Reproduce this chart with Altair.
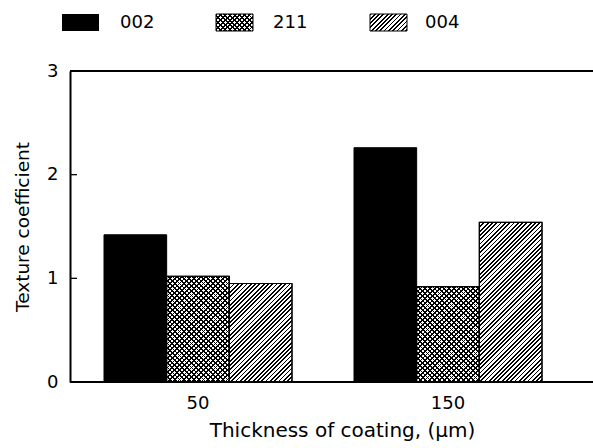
import altair as alt
import pandas as pd

# ---------------- data ----------------
thickness = ["50", "150"]
planes = ["002", "211", "004"]
tc_002 = [1.42, 2.26]
tc_211 = [1.02, 0.92]
tc_004 = [0.95, 1.54]
y_ticks = [0, 1, 2, 3]

rows = []
for i, t in enumerate(thickness):
    for p, vals in zip(planes, [tc_002, tc_211, tc_004]):
        rows.append({"thickness": t, "plane": p, "tc": vals[i]})
df = pd.DataFrame(rows)

# ---------------- layout / style ----------------
W, H = 523, 311
PAD_L, PAD_T = 70, 71
YMAX = 3
FONT = "DejaVu Sans"
FS = 18
X_RANGE = [34, 472]
PAD_INNER = 0.248
step = (X_RANGE[1] - X_RANGE[0]) / (len(thickness) - PAD_INNER)
bar_w = step * (1 - PAD_INNER) / len(planes)

HATCH_PERIOD, HATCH_FRAC = 4.3, 0.42
CROSS_PERIOD, CROSS_FRAC = 4.8, 0.38


def hatch(w, h, direction, period, frac):
    """Linear gradient with hard stops that draws 45-degree stripes in a w x h box."""
    m = (w * w + h * h) / (w + h)
    n = (w + h) / period
    dark, light = "#000000", "rgba(0,0,0,0)"
    stops = []
    k = 0
    while k < n:
        a = round(k / n, 5)
        b = round(min((k + frac) / n, 1.0), 5)
        c = round(min((k + 1) / n, 1.0), 5)
        stops += [
            alt.GradientStop(color=dark, offset=a),
            alt.GradientStop(color=dark, offset=b),
            alt.GradientStop(color=light, offset=b),
            alt.GradientStop(color=light, offset=c),
        ]
        k += 1
    if direction == "/":
        return alt.LinearGradient(gradient="linear", stops=stops,
                                  x1=0, y1=0, x2=round(w / m, 5), y2=round(h / m, 5))
    return alt.LinearGradient(gradient="linear", stops=stops,
                              x1=0, y1=1, x2=round(w / m, 5), y2=round(1 - h / m, 5))


def patterns_for(plane, w, h):
    if plane == "211":
        return [hatch(w, h, "/", CROSS_PERIOD, CROSS_FRAC),
                hatch(w, h, "\\", CROSS_PERIOD, CROSS_FRAC)]
    if plane == "004":
        return [hatch(w, h, "/", HATCH_PERIOD, HATCH_FRAC)]
    return []


x_enc = alt.X(
    "thickness:N", sort=thickness,
    scale=alt.Scale(domain=thickness, range=X_RANGE, paddingInner=PAD_INNER, paddingOuter=0),
    axis=alt.Axis(domain=False, ticks=False, tickSize=0, labelAngle=0, labelPadding=12,
                  labelFontSize=FS, titleFontSize=20, titlePadding=8, titleX=272,
                  titleFontWeight="normal", labelColor="black", titleColor="black",
                  labelFont=FONT, titleFont=FONT),
    title="Thickness of coating, (μm)",
)
xo_enc = alt.XOffset("plane:N", sort=planes,
                     scale=alt.Scale(domain=planes, paddingInner=0, paddingOuter=0))
y_enc = alt.Y(
    "tc:Q",
    scale=alt.Scale(domain=[0, YMAX], nice=False, zero=True),
    axis=alt.Axis(values=y_ticks, format="d", domain=True, domainWidth=2, domainColor="black",
                  ticks=False, grid=False, labelPadding=12, labelFontSize=FS,
                  titleFontSize=18.5, titlePadding=14, titleFontWeight="normal",
                  labelColor="black", titleColor="black", labelFont=FONT, titleFont=FONT),
    title="Texture coefficient",
)

layers = []

# base bars
layers.append(
    alt.Chart(df).mark_bar(stroke="black", strokeWidth=1).encode(
        x=x_enc, xOffset=xo_enc, y=y_enc,
        fill=alt.Fill("plane:N", scale=alt.Scale(domain=planes, range=["#000000", "#ffffff", "#ffffff"]),
                      legend=None),
    )
)

# pattern overlays (one per patterned bar)
for i, t in enumerate(thickness):
    for p, vals in zip(planes, [tc_002, tc_211, tc_004]):
        h = vals[i] * H / YMAX
        for g in patterns_for(p, bar_w, h):
            layers.append(
                alt.Chart(df).transform_filter(
                    f"datum.thickness == '{t}' && datum.plane == '{p}'"
                ).mark_bar(fill=g, strokeWidth=0).encode(x=x_enc, xOffset=xo_enc, y=y_enc)
            )

# outlines on top
layers.append(
    alt.Chart(df).transform_filter("datum.plane != '002'").mark_bar(
        fill="white", fillOpacity=0, stroke="black", strokeWidth=1.2
    ).encode(x=x_enc, xOffset=xo_enc, y=y_enc)
)

# frame lines (top and bottom)
frame = pd.DataFrame({"v": [0, YMAX]})
layers.append(
    alt.Chart(frame).mark_rule(color="black", strokeWidth=2).encode(
        y="v:Q", x=alt.value(0), x2=alt.value(W)
    )
)
# inward y ticks
ticks_df = pd.DataFrame({"v": y_ticks})
layers.append(
    alt.Chart(ticks_df).mark_rule(color="black", strokeWidth=1.3).encode(
        y="v:Q", x=alt.value(0), x2=alt.value(7)
    )
)

# legend at top (page coordinates converted to plot coordinates)
SW_X = [62, 216, 370]
TX_X = [120, 273, 425]
SW_W, SW_H = 37, 17
SW_Y0 = 14 - PAD_T
TX_Y = 23 - PAD_T
for j, p in enumerate(planes):
    ldf = pd.DataFrame({"plane": [p]})
    base_fill = "#000000" if p == "002" else "#ffffff"
    pos = dict(x=alt.value(SW_X[j] - PAD_L), x2=alt.value(SW_X[j] - PAD_L + SW_W),
               y=alt.value(SW_Y0), y2=alt.value(SW_Y0 + SW_H))
    layers.append(alt.Chart(ldf).mark_rect(fill=base_fill).encode(**pos))
    for g in patterns_for(p, SW_W, SW_H):
        layers.append(alt.Chart(ldf).mark_rect(fill=g).encode(**pos))
    if p != "002":
        layers.append(alt.Chart(ldf).mark_rect(fill="white", fillOpacity=0, stroke="black",
                                               strokeWidth=1).encode(**pos))
    layers.append(
        alt.Chart(ldf).mark_text(align="left", baseline="middle", fontSize=FS, font=FONT,
                                 color="black").encode(
            text="plane:N", x=alt.value(TX_X[j] - PAD_L), y=alt.value(TX_Y)
        )
    )

chart = alt.layer(*layers).properties(
    width=W, height=H,
    autosize=alt.AutoSizeParams(type="none"),
    padding={"left": PAD_L, "top": PAD_T, "right": 0, "bottom": 448 - PAD_T - H},
    background="white",
).configure_view(stroke=None)

chart.save("out.html", embed_options={"renderer": "svg", "actions": False})
